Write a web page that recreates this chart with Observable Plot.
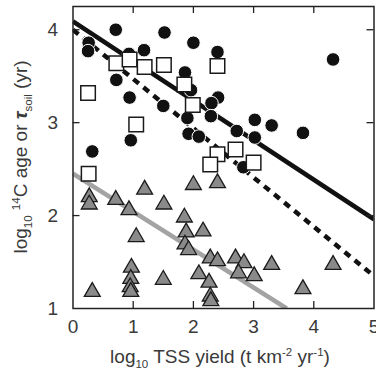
<!DOCTYPE html>
<html>
<head>
<meta charset="utf-8">
<script src="https://cdn.jsdelivr.net/npm/d3@7"></script>
<script src="https://cdn.jsdelivr.net/npm/@observablehq/plot@0.6"></script>
<style>
  html, body { margin: 0; padding: 0; background: #fff; }
  #chart { width: 376px; height: 381px; overflow: hidden; }
</style>
</head>
<body>
<div id="chart"></div>
<script>
// Data
const circleX = [0.71,1.52,2.00,0.26,0.25,0.93,1.18,2.40,4.32,0.72,1.86,0.94,1.50,1.96,2.41,2.30,2.29,1.90,1.92,2.09,3.02,3.30,2.72,3.02,3.82,0.96,0.32,2.83];
const circleY = [4.00,3.97,3.86,3.86,3.77,3.74,3.78,3.76,3.68,3.46,3.54,3.27,3.18,3.35,3.27,3.21,3.07,3.05,2.88,2.85,3.03,2.97,2.91,2.84,2.89,2.81,2.69,2.52];

const squareX = [0.25,0.72,0.94,1.19,1.51,2.40,1.85,1.99,1.05,0.26,2.40,2.70,2.28,3.00];
const squareY = [3.32,3.64,3.68,3.60,3.62,3.61,3.41,3.19,2.98,2.45,2.66,2.71,2.55,2.57];

const triangleX = [0.27,0.27,0.71,0.93,1.19,1.51,2.00,2.40,1.85,1.88,2.16,1.86,1.92,1.05,0.97,0.96,0.95,0.96,0.32,1.50,2.28,2.40,2.09,2.26,2.28,2.29,2.70,2.84,2.75,3.01,3.30,4.32,3.82];
const triangleY = [2.20,2.12,2.17,2.06,2.28,2.12,2.33,2.35,1.98,1.82,1.83,1.69,1.63,1.77,1.44,1.32,1.23,1.18,1.18,1.31,1.54,1.51,1.37,1.28,1.13,1.08,1.54,1.49,1.38,1.35,1.47,1.47,1.21];

const solidLineX = [0, 5];
const solidLineY = [4.09, 1.96];
const dashedLineX = [0, 5];
const dashedLineY = [4.00, 1.35];
const grayLineX = [0, 3.55];
const grayLineY = [2.45, 1.00];

const xTicks = [0, 1, 2, 3, 4, 5];
const yTicks = [1, 2, 3, 4];
const xInnerTicks = [1, 2, 3, 4];
const yInnerTicks = [2, 3, 4];

const toPts = (xs, ys) => xs.map((x, i) => ({x, y: ys[i]}));
const circles = toPts(circleX, circleY);
const squares = toPts(squareX, squareY);
const triangles = toPts(triangleX, triangleY);
const solidLine = toPts(solidLineX, solidLineY);
const dashedLine = toPts(dashedLineX, dashedLineY);
const grayLine = toPts(grayLineX, grayLineY);

const W = 376, H = 381;
const mL = 72.5, mR = 2.5, mT = 6, mB = 73;
const innerW = W - mL - mR, innerH = H - mT - mB;
const tickLen = 7;
const ink = "#222";
const fam = "'Liberation Sans', Arial, sans-serif";

const plot = Plot.plot({
  width: W,
  height: H,
  marginLeft: mL,
  marginRight: mR,
  marginTop: mT,
  marginBottom: mB,
  style: {fontFamily: fam, fontSize: "18px", color: "#3a3a3a", background: "white", overflow: "visible"},
  x: {domain: [0, 5]},
  y: {domain: [1, 4.25]},
  marks: [
    Plot.line(grayLine, {x: "x", y: "y", stroke: "#a3a3a3", strokeWidth: 4.5, strokeLinecap: "butt", clip: true}),
    Plot.line(solidLine, {x: "x", y: "y", stroke: "#111", strokeWidth: 4.5, strokeLinecap: "butt", clip: true}),
    Plot.line(dashedLine, {x: "x", y: "y", stroke: "#111", strokeWidth: 4.5, strokeDasharray: "7,6", strokeLinecap: "butt", clip: true}),
    Plot.dot(triangles, {x: "x", y: "y", symbol: "triangle", r: 5.9, fill: "#8a8a8a", stroke: "#1a1a1a", strokeWidth: 1.3}),
    Plot.dot(circles, {x: "x", y: "y", symbol: "circle", r: 6.8, fill: "#111", stroke: "white", strokeWidth: 1}),
    Plot.dot(squares, {x: "x", y: "y", symbol: "square", r: 8.2, fill: "white", stroke: "#1a1a1a", strokeWidth: 1.5}),
    // inward ticks on all four sides
    Plot.tickX(xInnerTicks, {x: d => d, insetTop: innerH - tickLen, stroke: ink, strokeWidth: 1.3}),
    Plot.tickX(xInnerTicks, {x: d => d, insetBottom: innerH - tickLen, stroke: ink, strokeWidth: 1.3}),
    Plot.tickY(yInnerTicks, {y: d => d, insetRight: innerW - tickLen, stroke: ink, strokeWidth: 1.3}),
    Plot.tickY(yInnerTicks, {y: d => d, insetLeft: innerW - tickLen, stroke: ink, strokeWidth: 1.3}),
    Plot.frame({stroke: ink, strokeWidth: 1.5}),
    Plot.axisX({ticks: xTicks, tickSize: 0, tickPadding: 11, label: null, tickFormat: d => String(d), fontSize: 19}),
    Plot.axisY({ticks: yTicks, tickSize: 0, tickPadding: 15, label: null, tickFormat: d => String(d), fontSize: 19})
  ]
});

document.getElementById("chart").appendChild(plot);

// Axis titles with sub/superscripts
const svg = d3.select(plot);

const xl = svg.append("text")
  .attr("x", mL + innerW / 2 - 3)
  .attr("y", 363)
  .attr("text-anchor", "middle")
  .attr("fill", "#3a3a3a")
  .style("font-family", fam)
  .style("font-size", "19px");
xl.append("tspan").text("log");
xl.append("tspan").attr("dy", 5).style("font-size", "11.5px").text("10");
xl.append("tspan").attr("dy", -5).text(" TSS yield (t km");
xl.append("tspan").attr("dy", -7).style("font-size", "11.5px").text("-2");
xl.append("tspan").attr("dy", 7).text(" yr");
xl.append("tspan").attr("dy", -7).style("font-size", "11.5px").text("-1");
xl.append("tspan").attr("dy", 7).text(")");

const yl = svg.append("text")
  .attr("transform", `translate(27, ${mT + innerH / 2}) rotate(-90)`)
  .attr("text-anchor", "middle")
  .attr("fill", "#3a3a3a")
  .style("font-family", fam)
  .style("font-size", "19px");
yl.append("tspan").text("log");
yl.append("tspan").attr("dy", 5).style("font-size", "11.5px").text("10");
yl.append("tspan").attr("dy", -5).text(" ");
yl.append("tspan").attr("dy", -7).style("font-size", "11.5px").text("14");
yl.append("tspan").attr("dy", 7).text("C age or ");
yl.append("tspan").style("font-weight", "bold").style("font-style", "italic").text("τ");
yl.append("tspan").attr("dy", 5).style("font-size", "11.5px").text("soil");
yl.append("tspan").attr("dy", -5).text(" (yr)");
</script>
</body>
</html>
